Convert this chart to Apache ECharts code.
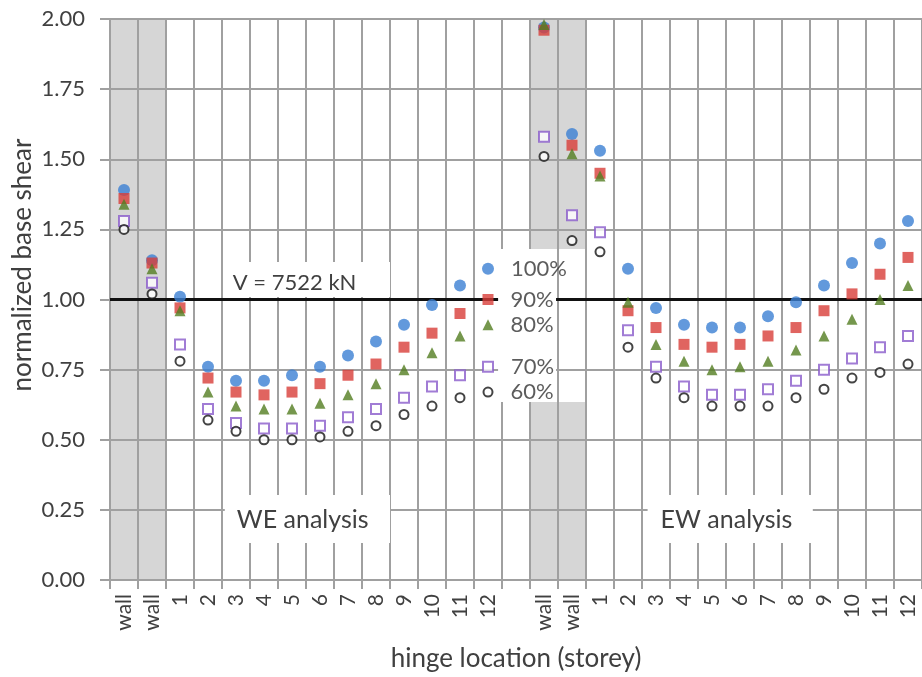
<!DOCTYPE html>
<html>
<head>
<meta charset="utf-8">
<script src="https://cdn.jsdelivr.net/npm/echarts@6/dist/echarts.min.js"></script>
<style>
  html, body { margin: 0; padding: 0; background: #fff; }
  #chart { width: 922px; height: 677px; }
</style>
</head>
<body>
<div id="chart"></div>
<script>
// Hinge locations: two wall hinges then storeys 1-12, for each analysis direction
const weLocations = ['wall', 'wall', '1', '2', '3', '4', '5', '6', '7', '8', '9', '10', '11', '12'];
const ewLocations = ['wall', 'wall', '1', '2', '3', '4', '5', '6', '7', '8', '9', '10', '11', '12'];

// Normalized base shear, WE analysis
const we100 = [1.39, 1.14, 1.01, 0.76, 0.71, 0.71, 0.73, 0.76, 0.80, 0.85, 0.91, 0.98, 1.05, 1.11];
const we90  = [1.36, 1.13, 0.97, 0.72, 0.67, 0.66, 0.67, 0.70, 0.73, 0.77, 0.83, 0.88, 0.95, 1.00];
const we80  = [1.34, 1.11, 0.96, 0.67, 0.62, 0.61, 0.61, 0.63, 0.66, 0.70, 0.75, 0.81, 0.87, 0.91];
const we70  = [1.28, 1.06, 0.84, 0.61, 0.56, 0.54, 0.54, 0.55, 0.58, 0.61, 0.65, 0.69, 0.73, 0.76];
const we60  = [1.25, 1.02, 0.78, 0.57, 0.53, 0.50, 0.50, 0.51, 0.53, 0.55, 0.59, 0.62, 0.65, 0.67];

// Normalized base shear, EW analysis
const ew100 = [1.97, 1.59, 1.53, 1.11, 0.97, 0.91, 0.90, 0.90, 0.94, 0.99, 1.05, 1.13, 1.20, 1.28];
const ew90  = [1.96, 1.55, 1.45, 0.96, 0.90, 0.84, 0.83, 0.84, 0.87, 0.90, 0.96, 1.02, 1.09, 1.15];
const ew80  = [1.98, 1.52, 1.44, 0.99, 0.84, 0.78, 0.75, 0.76, 0.78, 0.82, 0.87, 0.93, 1.00, 1.05];
const ew70  = [1.58, 1.30, 1.24, 0.89, 0.76, 0.69, 0.66, 0.66, 0.68, 0.71, 0.75, 0.79, 0.83, 0.87];
const ew60  = [1.51, 1.21, 1.17, 0.83, 0.72, 0.65, 0.62, 0.62, 0.62, 0.65, 0.68, 0.72, 0.74, 0.77];

const seriesNames = ['100%', '90%', '80%', '70%', '60%'];

// Reference shear level (V = 7522 kN) and y-axis ticks
const referenceLevel = 1.00;
const referenceText = 'V = 7522 kN';
const yTicks = [0, 0.25, 0.5, 0.75, 1.0, 1.25, 1.5, 1.75, 2.0];

// Shaded wall columns: [x from, x to, y from, y to] on the slot scale
const wallBandsWE = [[0, 2, 0, 2]];
const wallBandsEW = [[15, 17, 0, 0.635], [15, 17, 1.18, 2]];

// Layout of the annotation boxes (slot scale, value scale)
const boxes = {
  ref:    { x: [4.1, 10.0],   y: [1.009, 1.134] },
  we:     { x: [4.1, 10.0],   y: [0.132, 0.303] },
  ew:     { x: [19.2, 25.1],  y: [0.132, 0.303] },
  legend: { x: [13.86, 15.93], y: [0.635, 1.18] }
};

// Full category list: WE block, an empty spacer slot, EW block
const categories = weLocations.concat([''], ewLocations);
const labelIndex = weLocations.length - 1;  // storey 12 of the WE block carries the level labels

function joinBlocks(a, b) { return a.concat([null], b); }
const seriesData = [
  joinBlocks(we100, ew100),
  joinBlocks(we90, ew90),
  joinBlocks(we80, ew80),
  joinBlocks(we70, ew70),
  joinBlocks(we60, ew60)
];

const FONT = 'Lato, "Open Sans", sans-serif';
const TEXT = '#404040';
const GRIDC = '#a0a0a0';

const markerStyles = [
  { symbol: 'circle',      size: 12, itemStyle: { color: '#3b7fd3' } },
  { symbol: 'rect',        size: 11, itemStyle: { color: '#d83d38' } },
  { symbol: 'triangle',    size: 11, itemStyle: { color: '#527d20' } },
  { symbol: 'emptyRect',   size: 10, itemStyle: { color: '#8a5bcb', borderWidth: 1.6 } },
  { symbol: 'emptyCircle', size: 9,  itemStyle: { color: '#151515', borderWidth: 1.8 } }
];

const scatterSeries = seriesData.map((d, i) => ({
  name: seriesNames[i],
  type: 'scatter',
  xAxisIndex: 0,
  yAxisIndex: 0,
  z: 6,
  symbol: markerStyles[i].symbol,
  symbolSize: markerStyles[i].size,
  itemStyle: markerStyles[i].itemStyle,
  data: d,
  label: {
    show: true,
    position: 'right',
    distance: 17,
    fontFamily: FONT,
    fontSize: 22,
    color: '#333',
    formatter: p => (p.dataIndex === labelIndex ? seriesNames[i] : '')
  },
  emphasis: { disabled: true },
  animation: false
}));

function band(b) {
  return [{ coord: [b[0], b[2]] }, { coord: [b[1], b[3]] }];
}
function boxArea(b, text, size, dist, dy) {
  return [
    {
      name: text,
      coord: [b.x[0], b.y[1]],
      label: {
        show: !!text, position: 'insideLeft', distance: dist, offset: [0, dy],
        fontFamily: FONT, fontSize: size, color: TEXT
      }
    },
    { coord: [b.x[1], b.y[0]] }
  ];
}

const option = {
  backgroundColor: '#fff',
  animation: false,
  grid: { left: 110, right: 0, top: 19, bottom: 97, containLabel: false },
  xAxis: [
    {
      type: 'category',
      data: categories,
      boundaryGap: true,
      z: 2,
      axisLine: { show: true, lineStyle: { color: GRIDC, width: 2 } },
      axisTick: { show: true, interval: 0, length: 9, lineStyle: { color: GRIDC, width: 2 } },
      splitLine: { show: true, interval: 0, lineStyle: { color: GRIDC, width: 2 } },
      axisLabel: {
        interval: 0, rotate: 90, margin: 14,
        fontFamily: FONT, fontSize: 21, color: TEXT
      },
      name: 'hinge location (storey)',
      nameLocation: 'middle',
      nameGap: 66,
      nameTextStyle: { fontFamily: FONT, fontSize: 26, color: TEXT }
    },
    {
      type: 'value', show: false, min: 0, max: categories.length
    }
  ],
  yAxis: {
    type: 'value',
    min: yTicks[0],
    max: yTicks[yTicks.length - 1],
    interval: 0.25,
    z: 2,
    axisLine: { show: true, lineStyle: { color: GRIDC, width: 2 } },
    axisTick: { show: true, length: 10, lineStyle: { color: GRIDC, width: 2 } },
    splitLine: { show: true, lineStyle: { color: GRIDC, width: 2 } },
    axisLabel: {
      margin: 25, fontFamily: FONT, fontSize: 22, color: TEXT,
      formatter: v => v.toFixed(2)
    }
  },
  graphic: [
    {
      type: 'text',
      x: 23, y: 265,
      rotation: Math.PI / 2,
      style: {
        text: 'normalized base shear',
        fontFamily: FONT, fontSize: 26, fill: TEXT,
        align: 'center', verticalAlign: 'middle'
      }
    }
  ],
  series: [
    {
      // shaded wall columns, drawn beneath the grid lines
      name: 'walls',
      type: 'line',
      xAxisIndex: 1,
      yAxisIndex: 0,
      z: 1,
      data: [],
      markArea: {
        silent: true,
        z: 1,
        itemStyle: { color: '#d6d6d6' },
        data: wallBandsWE.concat(wallBandsEW).map(band)
      }
    },
    {
      // white annotation boxes over the grid
      name: 'annotations',
      type: 'line',
      xAxisIndex: 1,
      yAxisIndex: 0,
      z: 3,
      data: [],
      markArea: {
        silent: true,
        z: 3,
        itemStyle: { color: '#ffffff' },
        data: [
          boxArea(boxes.ref, referenceText, 22, 8, 3),
          boxArea(boxes.we, 'WE analysis', 25, 12, 1),
          boxArea(boxes.ew, 'EW analysis', 25, 13, 1),
          boxArea(boxes.legend, '', 12, 0, 0)
        ]
      }
    },
    {
      // reference shear level, interrupted by the level labels
      name: 'reference',
      type: 'line',
      xAxisIndex: 1,
      yAxisIndex: 0,
      z: 4,
      data: [],
      markLine: {
        silent: true,
        z: 4,
        symbol: 'none',
        label: { show: false },
        lineStyle: { color: '#111', width: 3, type: 'solid' },
        data: [
          [{ coord: [0, referenceLevel] }, { coord: [boxes.legend.x[0], referenceLevel] }],
          [{ coord: [boxes.legend.x[1], referenceLevel] }, { coord: [categories.length, referenceLevel] }]
        ]
      }
    }
  ].concat(scatterSeries)
};

const chart = echarts.init(document.getElementById('chart'), null, { renderer: 'canvas' });
chart.setOption(option);
</script>
</body>
</html>
